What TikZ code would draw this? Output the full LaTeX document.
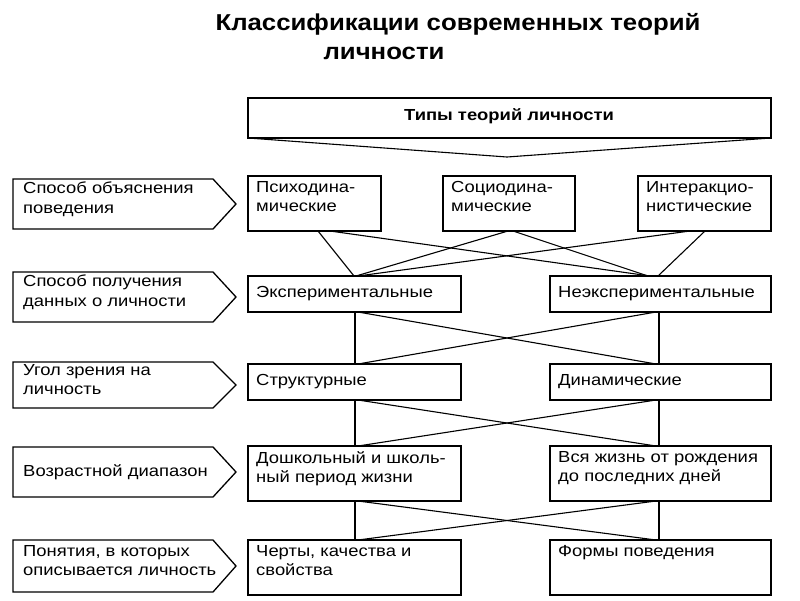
\documentclass[tikz,border=0pt]{standalone}
\usepackage{fontspec}
\setmainfont{Liberation Sans}
\begin{document}
\begin{tikzpicture}[x=1pt,y=-1pt,
 box/.style={draw,line width=1.3pt},
 txt/.style={anchor=north west,align=left,font=\fontsize{16}{19.5}\selectfont,inner sep=0pt,xscale=1.15},
 ln/.style={line width=1.1pt}]
\useasboundingbox (0,0) rectangle (800,600);
\node[font=\bfseries\fontsize{23}{24}\selectfont,xscale=1.12] (t1) at (458,24) {Классификации современных теорий};
\node[font=\bfseries\fontsize{23}{24}\selectfont,xscale=1.12] (t2) at (384,53) {личности};
% header
\draw[box] (248,98) rectangle (771,138);
\node[font=\bfseries\fontsize{16}{16}\selectfont,xscale=1.15] (hd) at (509,116) {Типы теорий личности};
\coordinate (apex) at (507,157);
\draw[ln] (248,138) -- (apex) -- (771,138);
% left arrows
\foreach \y/\h in {179/50,272/50,362/46,447/50,540/52}{
 \draw[box] (13,\y) -- (213,\y) -- (236,\y+\h/2) -- (213,\y+\h) -- (13,\y+\h) -- cycle;
}
\node[txt] (l1) at (23,182) {Способ объяснения\\поведения};
\node[txt] (l2) at (23,275) {Способ получения\\данных о личности};
\node[txt] (l3) at (23,364) {Угол зрения на\\личность};
\node[txt,anchor=west] (l4) at (23,472) {Возрастной диапазон};
\node[txt] (l5) at (23,545) {Понятия, в которых\\описывается личность};
% row 1
\draw[box] (248,176) rectangle (381,231);
\draw[box] (443,176) rectangle (575,231);
\draw[box] (638,176) rectangle (771,231);
\node[txt] (p1) at (256,181) {Психодина-\\мические};
\node[txt] (p2) at (451,181) {Социодина-\\мические};
\node[txt] (p3) at (646,181) {Интеракцио-\\нистические};
% rows 2-5
\draw[box] (248,276) rectangle (461,312);
\draw[box] (550,276) rectangle (771,312);
\node[txt,anchor=west] (e1) at (256,294) {Экспериментальные};
\node[txt,anchor=west] (e2) at (558,294) {Неэкспериментальные};
\draw[box] (248,364) rectangle (461,400);
\draw[box] (550,364) rectangle (771,400);
\node[txt,anchor=west] (s1) at (256,382) {Структурные};
\node[txt,anchor=west] (s2) at (558,382) {Динамические};
\draw[box] (248,446) rectangle (461,501);
\draw[box] (550,446) rectangle (771,501);
\node[txt] (a1) at (256,451) {Дошкольный и школь-\\ный период жизни};
\node[txt] (a2) at (558,451) {Вся жизнь от рождения\\до последних дней};
\draw[box] (248,540) rectangle (461,595);
\draw[box] (550,540) rectangle (771,595);
\node[txt] (c1) at (256,545) {Черты, качества и\\свойства};
\node[txt] (c2) at (558,545) {Формы поведения};
% connectors row1-row2
\draw[ln] (318,231) -- (354,276);
\draw[ln] (330,231) -- (650,276);
\draw[ln] (508,231) -- (356,276);
\draw[ln] (513,231) -- (648,276);
\draw[ln] (690,231) -- (358,276);
\draw[ln] (705,231) -- (658,276);
% lower crosses
\foreach \a/\b in {312/364,400/446,501/540}{
 \draw[ln] (355,\a) -- (355,\b);
 \draw[ln] (659,\a) -- (659,\b);
 \draw[ln] (358,\a) -- (656,\b);
 \draw[ln] (656,\a) -- (358,\b);
}
\end{tikzpicture}
\end{document}
